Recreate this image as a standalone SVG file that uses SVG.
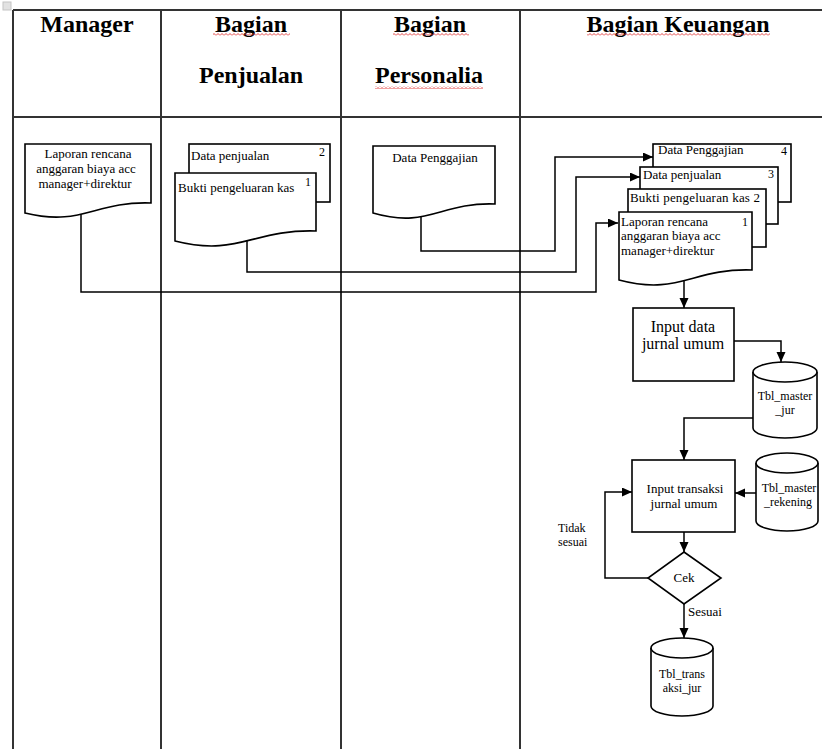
<svg xmlns="http://www.w3.org/2000/svg" width="822" height="749" viewBox="0 0 822 749">
  <style>
    .lane { stroke: #333; stroke-width: 2; fill: none; }
    .head { font-family: "Liberation Serif", "Times New Roman", serif; font-weight: bold; font-size: 24px; fill: #000; text-anchor: middle; }
    .shape { fill: #fff; stroke: #000; stroke-width: 1.6; }
    .t { font-family: "Liberation Serif", "Times New Roman", serif; font-size: 13px; fill: #000; }
    .tc { text-anchor: middle; }
    .big { font-size: 16px; }
    .sm { font-size: 12px; }
    .num { font-size: 12px; }
    .wire { fill: none; stroke: #000; stroke-width: 1.5; }
    .spell { fill: url(#squiggle); }
  </style>
  <defs>
    <marker id="arrow" markerUnits="userSpaceOnUse" markerWidth="11" markerHeight="10" refX="10" refY="4.5" orient="auto">
      <path d="M0,0 L10,4.5 L0,9 Z" fill="#000"/>
    </marker>
    <pattern id="squiggle" width="4" height="3" patternUnits="userSpaceOnUse">
      <path d="M0,2.5 L2,0.5 L4,2.5" fill="none" stroke="#e03030" stroke-width="0.9"/>
    </pattern>
  </defs>

  <rect width="822" height="749" fill="#fff"/>

  <!-- table anchor handle -->
  <rect x="3" y="2" width="8" height="8" fill="#e2e2e2" stroke="#c4c4c4" stroke-width="1"/>

  <!-- swimlane table -->
  <g id="lanes">
    <path class="lane" d="M13,10 H822 M13,117 H822 M13,10 V749 M161,10 V749 M341,10 V749 M520,10 V749"/>
    <text class="head" x="87" y="32">Manager</text>
    <text class="head" x="251" y="32">Bagian</text>
    <text class="head" x="251" y="83">Penjualan</text>
    <text class="head" x="430" y="32">Bagian</text>
    <text class="head" x="429" y="83">Personalia</text>
    <text class="head" x="678" y="32" textLength="183" lengthAdjust="spacing">Bagian Keuangan</text>
    <rect class="spell" x="213" y="33" width="77" height="3"/>
    <rect class="spell" x="393" y="33" width="76" height="3"/>
    <rect class="spell" x="375" y="86" width="108" height="3"/>
    <rect class="spell" x="587" y="33" width="183" height="3"/>
  </g>

  <!-- connectors -->
  <g id="connectors">
    <path class="wire" d="M81,210 V292 H596 V223 H618" marker-end="url(#arrow)"/>
    <path class="wire" d="M247,238 V272 H576 V177 H640" marker-end="url(#arrow)"/>
    <path class="wire" d="M421,208 V251 H555 V157 H653" marker-end="url(#arrow)"/>
    <path class="wire" d="M684,268 V308" marker-end="url(#arrow)"/>
    <path class="wire" d="M734,341 H781 V362" marker-end="url(#arrow)"/>
    <path class="wire" d="M753,418 H684 V460" marker-end="url(#arrow)"/>
    <path class="wire" d="M756,493 H735" marker-end="url(#arrow)"/>
    <path class="wire" d="M684,532 V552" marker-end="url(#arrow)"/>
    <path class="wire" d="M648,578 H605 V492 H632" marker-end="url(#arrow)"/>
    <path class="wire" d="M684,604 V638" marker-end="url(#arrow)"/>
    <text class="t sm" x="558" y="532">Tidak</text>
    <text class="t sm" x="558" y="546">sesuai</text>
    <text class="t" x="688" y="616">Sesuai</text>
  </g>

  <!-- Manager -->
  <g id="doc-laporan-manager">
    <path class="shape" d="M25,144 H151 V203 C94,201 82,227 25,213 Z"/>
    <text class="t tc" x="88" y="158">Laporan  rencana</text>
    <text class="t tc" x="86" y="173">anggaran biaya acc</text>
    <text class="t tc" x="85" y="188">manager+direktur</text>
  </g>

  <!-- Bagian Penjualan -->
  <g id="doc-data-penjualan">
    <rect class="shape" x="189" y="144" width="141" height="58"/>
    <text class="t" x="191" y="160">Data penjualan</text>
    <text class="t num" x="319" y="156">2</text>
  </g>
  <g id="doc-bukti-kas">
    <path class="shape" d="M175,173 H316 V231 C253,229 238,257 175,241 Z"/>
    <text class="t" x="178" y="192">Bukti pengeluaran kas</text>
    <text class="t num" x="305" y="186">1</text>
  </g>

  <!-- Bagian Personalia -->
  <g id="doc-data-penggajian">
    <path class="shape" d="M373,146 H495 V204 C440,202 428,229 373,213 Z"/>
    <text class="t tc" x="435" y="162">Data Penggajian</text>
  </g>

  <!-- Bagian Keuangan: received documents -->
  <g id="keu-doc-penggajian">
    <rect class="shape" x="653" y="144" width="138" height="58"/>
    <text class="t" x="658" y="154">Data Penggajian</text>
    <text class="t num" x="781" y="155">4</text>
  </g>
  <g id="keu-doc-penjualan">
    <rect class="shape" x="640" y="167" width="138" height="57"/>
    <text class="t" x="643" y="179">Data penjualan</text>
    <text class="t num" x="768" y="178">3</text>
  </g>
  <g id="keu-doc-bukti-kas">
    <rect class="shape" x="628" y="189" width="138" height="58"/>
    <text class="t" x="630" y="202" textLength="130" lengthAdjust="spacing">Bukti pengeluaran kas 2</text>
  </g>
  <g id="keu-doc-laporan">
    <path class="shape" d="M619,212 H752 V270 C692,268 679,296 619,280 Z"/>
    <text class="t" x="621" y="226">Laporan  rencana</text>
    <text class="t num" x="742" y="226">1</text>
    <text class="t" x="621" y="240">anggaran biaya acc</text>
    <text class="t" x="621" y="255">manager+direktur</text>
  </g>

  <!-- Bagian Keuangan: processing -->
  <g id="input-data-jurnal">
    <rect class="shape" x="633" y="308" width="101" height="73"/>
    <text class="t tc big" x="683" y="332">Input data</text>
    <text class="t tc big" x="683" y="349">jurnal umum</text>
  </g>
  <g id="tbl-master-jur">
    <path class="shape" d="M753,372 V428 A32,10 0 0 0 817,428 V372"/>
    <ellipse class="shape" cx="785" cy="372" rx="32" ry="10"/>
    <text class="t tc sm" x="785" y="400">Tbl_master</text>
    <text class="t tc sm" x="785" y="414">_jur</text>
  </g>
  <g id="input-transaksi-jurnal">
    <rect class="shape" x="632" y="460" width="103" height="72"/>
    <text class="t tc" x="685" y="493">Input transaksi</text>
    <text class="t tc" x="684" y="508">jurnal umum</text>
  </g>
  <g id="tbl-master-rekening">
    <path class="shape" d="M756,463 V521 A31,10 0 0 0 818,521 V463"/>
    <ellipse class="shape" cx="787" cy="463" rx="31" ry="10"/>
    <text class="t tc sm" x="789" y="492">Tbl_master</text>
    <text class="t tc sm" x="788" y="506">_rekening</text>
  </g>
  <g id="cek">
    <polygon class="shape" points="684,552 721,578 684,604 648,578"/>
    <text class="t tc" x="684" y="582">Cek</text>
  </g>
  <g id="tbl-transaksi-jur">
    <path class="shape" d="M651,648 V706 A31,10 0 0 0 713,706 V648"/>
    <ellipse class="shape" cx="682" cy="648" rx="31" ry="10"/>
    <text class="t tc sm" x="682" y="678">Tbl_trans</text>
    <text class="t tc sm" x="682" y="692">aksi_jur</text>
  </g>
</svg>
